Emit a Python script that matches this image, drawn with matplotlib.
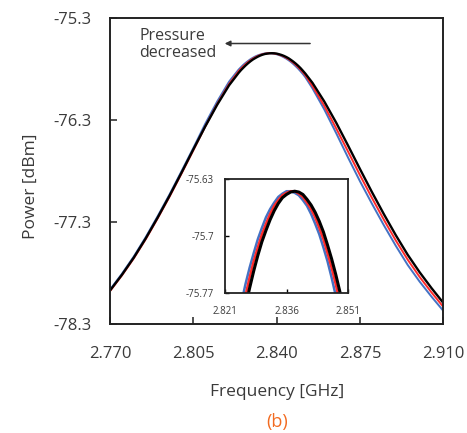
import numpy as np
import matplotlib
matplotlib.use("Agg")
import matplotlib.pyplot as plt

plt.rcParams['font.family'] = ['Open Sans', 'DejaVu Sans']

# frequency grid [GHz] (denser around the resonance for the inset)
freq = [2.770, 2.775, 2.780, 2.785, 2.790, 2.795, 2.800, 2.805, 2.810, 2.815, 2.820,
        2.824, 2.825, 2.826, 2.827, 2.828, 2.829, 2.830, 2.831, 2.832, 2.833, 2.834,
        2.835, 2.836, 2.837, 2.838, 2.839, 2.840, 2.841, 2.842, 2.843, 2.844, 2.845,
        2.846, 2.847, 2.848, 2.849, 2.850, 2.851, 2.852,
        2.855, 2.860, 2.865, 2.870, 2.875, 2.880, 2.885, 2.890, 2.895, 2.900, 2.905, 2.910]

# power [dBm], three pressures
p_black = [-77.972, -77.818, -77.649, -77.461, -77.257, -77.043, -76.818, -76.588, -76.363, -76.151, -75.960,
           -75.838, -75.811, -75.787, -75.764, -75.743, -75.724, -75.707, -75.693, -75.680, -75.669, -75.660,
           -75.653, -75.649, -75.646, -75.645, -75.646, -75.649, -75.655, -75.662, -75.671, -75.682, -75.695,
           -75.711, -75.728, -75.747, -75.768, -75.791, -75.817, -75.844,
           -75.935, -76.119, -76.327, -76.552, -76.782, -77.007, -77.223, -77.429, -77.621, -77.792, -77.948, -78.094]
p_red = [-77.978, -77.824, -77.656, -77.469, -77.265, -77.052, -76.827, -76.597, -76.363, -76.143, -75.946,
         -75.822, -75.796, -75.773, -75.751, -75.731, -75.714, -75.698, -75.685, -75.673, -75.663, -75.656,
         -75.650, -75.647, -75.645, -75.645, -75.648, -75.652, -75.659, -75.667, -75.677, -75.690, -75.704,
         -75.721, -75.739, -75.759, -75.782, -75.806, -75.833, -75.861,
         -75.966, -76.162, -76.383, -76.611, -76.842, -77.064, -77.278, -77.481, -77.669, -77.838, -77.990, -78.133]
p_blue = [-77.963, -77.808, -77.638, -77.449, -77.244, -77.030, -76.804, -76.574, -76.337, -76.119, -75.924,
          -75.806, -75.782, -75.759, -75.739, -75.721, -75.704, -75.690, -75.677, -75.667, -75.659, -75.652,
          -75.648, -75.645, -75.645, -75.647, -75.650, -75.656, -75.663, -75.673, -75.685, -75.698, -75.714,
          -75.731, -75.751, -75.773, -75.796, -75.822, -75.849, -75.879,
          -75.989, -76.197, -76.430, -76.670, -76.902, -77.121, -77.332, -77.533, -77.721, -77.884, -78.032, -78.172]

xticks = [2.770, 2.805, 2.840, 2.875, 2.910]
yticks = [-75.3, -76.3, -77.3, -78.3]
in_xticks = [2.821, 2.836, 2.851]
in_yticks = [-75.63, -75.7, -75.77]

txt = '#3a3a3a'
c_blue = '#4472C4'
c_red = '#FF2A2A'

fig = plt.figure(figsize=(4.67, 4.33), dpi=100)
ax = fig.add_axes([0.2355, 0.2517, 0.714, 0.7067])

for p, c, lw in [(p_blue, c_blue, 1.4), (p_red, c_red, 1.4), (p_black, 'black', 1.7)]:
    ax.plot(freq, p, color=c, lw=lw)

ax.set_xlim(2.770, 2.910)
ax.set_ylim(-78.3, -75.3)
ax.set_xticks(xticks)
ax.set_xticklabels(['%.3f' % v for v in xticks])
ax.set_yticks(yticks)
ax.set_yticklabels(['%.1f' % v for v in yticks])
ax.tick_params(direction='in', length=5, width=1.2, colors='#333333', labelcolor=txt,
               labelsize=12)
ax.tick_params(axis='x', pad=15.5)
ax.tick_params(axis='y', pad=13)
for s in ax.spines.values():
    s.set_linewidth(1.4)
    s.set_color('#222222')

ax.set_xlabel('Frequency [GHz]', fontsize=12.5, color=txt, labelpad=16.5)
ax.set_ylabel('Power [dBm]', fontsize=12.5, color=txt)
ax.yaxis.set_label_coords(-0.213, 0.45)

ax.text(2.7822, -75.56, 'Pressure\ndecreased', fontsize=11.5, color=txt,
        ha='left', va='center', linespacing=1.15)
ax.annotate('', xy=(2.8170, -75.55), xytext=(2.8552, -75.55),
            arrowprops=dict(arrowstyle='-|>', color='#333333', lw=1.1, mutation_scale=8))

fig.text(0.593, 0.026, '(b)', fontsize=13, color='#F26B21', ha='center', va='center')

# inset
ins = fig.add_axes([0.4818, 0.3233, 0.2634, 0.2633])
for p, c, lw in [(p_blue, c_blue, 1.8), (p_red, c_red, 1.8), (p_black, 'black', 2.2)]:
    ins.plot(freq, p, color=c, lw=lw)
ins.set_xlim(2.821, 2.851)
ins.set_ylim(-75.77, -75.63)
ins.set_xticks(in_xticks)
ins.set_xticklabels(['%.3f' % v for v in in_xticks])
ins.set_yticks(in_yticks)
ins.set_yticklabels(['%g' % v for v in in_yticks])
ins.tick_params(direction='in', length=3, width=1.0, labelsize=7, labelcolor=txt)
ins.tick_params(axis='x', pad=9)
ins.tick_params(axis='y', pad=8)
for s in ins.spines.values():
    s.set_linewidth(1.3)
    s.set_color('#222222')

fig.savefig('out.png', dpi=100)
